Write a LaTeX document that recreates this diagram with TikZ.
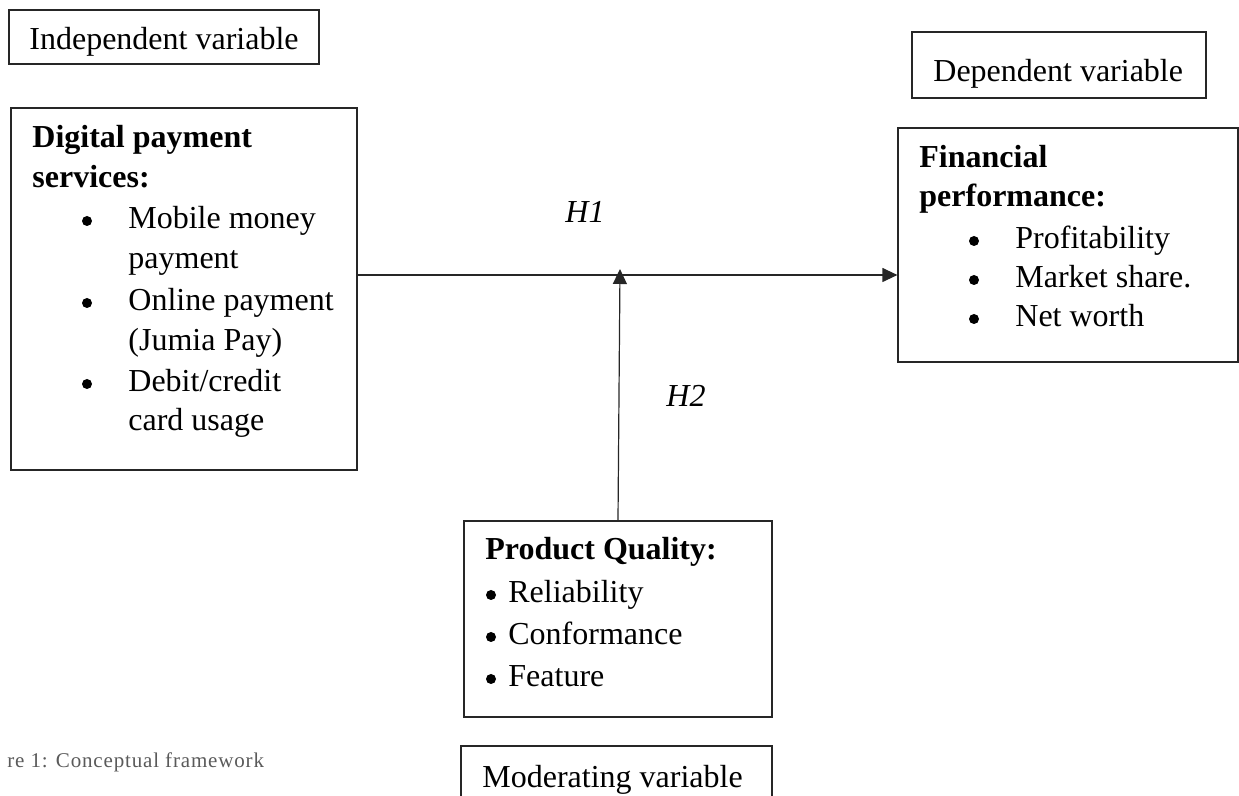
\documentclass[tikz,border=0pt]{standalone}
\usepackage{fontspec}
\setmainfont{Liberation Serif}
\newfontfamily\capfont[LetterSpace=4.0]{Liberation Serif}
\usetikzlibrary{fit,arrows.meta}
\definecolor{capgray}{HTML}{5A5A5A}
\tikzset{
  box/.style={draw=black!85, line width=0.6pt, inner sep=0pt, fill=none},
  txt/.style={anchor=base west, inner sep=0pt, font=\fontsize{16}{20}\selectfont},
  hyp/.style={txt, font=\fontsize{16}{20}\selectfont\itshape},
  bul/.style={circle, fill=black, inner sep=0pt, minimum size=5pt},
  arr/.style={line width=0.6pt, draw=black!85, -{Triangle[length=7.5pt,width=7pt]}},
}
\begin{document}
\begin{tikzpicture}[x=0.5pt,y=-0.5pt]
\useasboundingbox (0,0) rectangle (1239,796);
\clip (0,0) rectangle (1239,796);
% boxes
\node[box, fit={(9,10) (319,64)}] (indep) {};
\node[box, fit={(11,108) (357,470)}] (digital) {};
\node[box, fit={(912,32) (1206,98)}] (dep) {};
\node[box, fit={(898,128) (1238,362)}] (fin) {};
\node[box, fit={(464,521) (772,717)}] (pq) {};
\node[box, fit={(461,746) (772,830)}] (mod) {};
% texts
\node[txt] (t-indep) at (29,50) {Independent variable};
\node[txt] (t-dep) at (933,82) {Dependent variable};
\node[txt] (t-mod) at (482,788) {Moderating variable};

\node[txt, font=\fontsize{16}{20}\selectfont\bfseries] (d1) at (32,148) {Digital payment};
\node[txt, font=\fontsize{16}{20}\selectfont\bfseries] (d2) at (32,188) {services:};
\node[bul] (db1) at (87,221) {};
\node[txt] (d3) at (128,229) {Mobile money};
\node[txt] (d4) at (128,269) {payment};
\node[bul] (db2) at (87,303) {};
\node[txt] (d5) at (128,311) {Online payment};
\node[txt] (d6) at (128,351) {(Jumia Pay)};
\node[bul] (db3) at (87,384) {};
\node[txt] (d7) at (128,392) {Debit/credit};
\node[txt] (d8) at (128,431) {card usage};

\node[txt, font=\fontsize{16}{20}\selectfont\bfseries] (f1) at (919,168) {Financial};
\node[txt, font=\fontsize{16}{20}\selectfont\bfseries] (f2) at (919,207) {performance:};
\node[bul] (fb1) at (974,241) {};
\node[txt] (f3) at (1015,249) {Profitability};
\node[bul] (fb2) at (974,280) {};
\node[txt] (f4) at (1015,288) {Market share.};
\node[bul] (fb3) at (974,319) {};
\node[txt] (f5) at (1015,327) {Net worth};

\node[txt, font=\fontsize{16}{20}\selectfont\bfseries] (p1) at (485,560) {Product Quality:};
\node[bul] (pb1) at (491,595) {};
\node[txt] (p2) at (508,603) {Reliability};
\node[bul] (pb2) at (491,637) {};
\node[txt] (p3) at (508,645) {Conformance};
\node[bul] (pb3) at (491,679) {};
\node[txt] (p4) at (508,687) {Feature};

\node[hyp] (h1) at (565,223) {H1};
\node[hyp] (h2) at (666,407) {H2};

\node[anchor=base west, inner sep=0pt, text=capgray, font=\capfont\fontsize{10.5}{12}\selectfont] (cap) at (7,768) {re 1: Conceptual framework};

% connectors
\coordinate (hl) at (357,275);
\coordinate (mid) at (620,269);
\draw[arr] (digital.east |- hl) -- (fin.west |- hl);
\draw[arr] (pq.north) -- (mid);
\end{tikzpicture}
\end{document}
